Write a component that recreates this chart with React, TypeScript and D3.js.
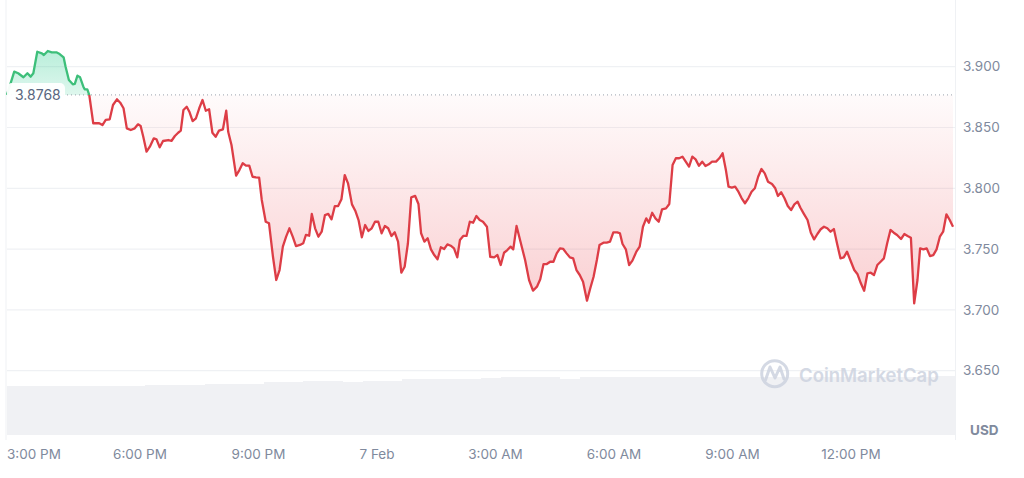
import React from 'react';
import * as d3 from 'd3';

// ---- DATA ----
const START = new Date(2024, 1, 6, 14, 38);
const SPAN_MINUTES = 1440;
const openPrice = 3.8768;
const priceTicks = [3.65, 3.7, 3.75, 3.8, 3.85, 3.9];

const minutes = [0,11,17,25,31,36,40,46,53,56,62,68,75,80,86,89,94,100,103,107,111,116,118,122,125,131,140,145,150,156,161,167,172,177,182,188,194,199,203,207,212,217,223,227,232,
237,245,250,255,260,264,268,273,277,282,287,292,297,302,307,312,317,322,328,333,336,341,348,353,358,363,368,373,378,383,387,393,398,404,409,414,419,424,429,434,439,445,450,454,459,463,468,473,
478,483,488,493,498,503,508,513,518,524,529,534,539,544,549,554,559,564,569,574,579,584,589,594,599,604,609,614,620,625,629,634,639,644,649,654,659,664,669,674,679,684,688,693,698,703,708,713,718,
723,729,734,740,745,750,755,760,765,769,774,780,787,793,799,805,810,815,820,825,830,835,840,845,850,855,860,865,870,875,881,886,891,896,900,906,911,916,921,927,931,935,940,945,950,956,961,
966,971,975,980,985,990,995,1001,1006,1011,1016,1021,1026,1031,1036,1041,1046,1051,1056,1061,1066,1071,1077,1082,1087,1092,1096,1101,1106,1111,1116,1121,1126,1131,1136,1141,1146,1151,1156,1162,1167,1171,1176,1181,1186,1191,1196,1201,1205,
1210,1216,1221,1226,1231,1236,1241,1246,1251,1256,1261,1266,1271,1276,1282,1287,1292,1297,1302,1307,1312,1317,1322,1327,1332,1337,1342,1347,1352,1358,1363,1368,1373,1378,1383,1387,1392,1397,1402,1407,1412,1417,1422,1427,1432,1437];

const prices = [3.8768,3.8959,3.8946,3.8913,3.8946,3.8918,3.8946,3.9123,3.9110,3.9096,3.9129,3.9118,3.9118,3.9104,3.9077,3.9000,3.8891,3.8855,3.8858,3.8926,3.8913,3.8836,3.8814,3.8814,3.8767,3.8535,3.8535,3.8520,3.8562,3.8567,3.8685,3.8732,3.8704,3.8658,3.8493,3.8479,3.8493,3.8526,3.8512,3.8424,3.8301,3.8342,3.8411,3.8403,3.8337,
3.8389,3.8397,3.8391,3.8430,3.8457,3.8474,3.8644,3.8671,3.8630,3.8553,3.8576,3.8658,3.8726,3.8638,3.8650,3.8457,3.8424,3.8474,3.8485,3.8638,3.8465,3.8356,3.8104,3.8150,3.8206,3.8186,3.8186,3.8095,3.8090,3.8087,3.7904,3.7725,3.7712,3.7437,3.7246,3.7328,3.7520,3.7602,3.7671,3.7602,3.7525,3.7534,3.7548,3.7616,3.7610,3.7789,3.7671,3.7602,
3.7643,3.7780,3.7789,3.7745,3.7854,3.7854,3.7910,3.8109,3.8041,3.7868,3.7816,3.7739,3.7597,3.7698,3.7649,3.7671,3.7725,3.7725,3.7630,3.7690,3.7671,3.7608,3.7638,3.7561,3.7306,3.7355,3.7548,3.7926,3.7937,3.7871,3.7630,3.7561,3.7589,3.7498,3.7451,3.7416,3.7515,3.7501,3.7539,3.7528,3.7506,3.7432,3.7575,3.7608,3.7608,3.7725,3.7717,3.7772,3.7739,
3.7725,3.7684,3.7437,3.7432,3.7451,3.7369,3.7470,3.7492,3.7520,3.7498,3.7690,3.7561,3.7410,3.7246,3.7158,3.7191,3.7252,3.7377,3.7377,3.7396,3.7396,3.7465,3.7506,3.7501,3.7465,3.7432,3.7424,3.7328,3.7287,3.7232,3.7076,3.7178,3.7273,3.7410,3.7534,3.7553,3.7553,3.7561,3.7638,3.7638,3.7630,3.7542,3.7498,3.7369,3.7405,3.7479,3.7520,
3.7684,3.7753,3.7717,3.7799,3.7753,3.7725,3.7827,3.7835,3.7871,3.8191,3.8247,3.8247,3.8260,3.8219,3.8178,3.8260,3.8238,3.8186,3.8219,3.8183,3.8197,3.8219,3.8219,3.8247,3.8288,3.8150,3.8013,3.8005,3.8013,3.7972,3.7918,3.7877,3.7918,3.7972,3.8000,3.8095,3.8159,3.8123,3.8054,3.8035,3.8000,3.7937,3.7967,3.7918,3.7854,3.7821,3.7868,3.7890,3.7842,
3.7794,3.7739,3.7635,3.7580,3.7624,3.7663,3.7684,3.7671,3.7643,3.7665,3.7542,3.7424,3.7432,3.7479,3.7396,3.7328,3.7293,3.7219,3.7158,3.7301,3.7306,3.7287,3.7369,3.7396,3.7424,3.7548,3.7657,3.7635,3.7616,3.7583,3.7624,3.7608,3.7594,3.7054,3.7246,3.7506,3.7498,3.7506,3.7443,3.7451,3.7498,3.7602,3.7643,3.7786,3.7739,3.7684];

// 24h volume (USD millions), one value per 30 minutes
const volumeStepMinutes = 30;
const volumes = [196,196,196,196,196,196,196,200,200,200,205,205,205,211,211,217,217,213,217,217,224,224,224,224,229,231,231,231,224,231,231,231,231,231,231,231,231,231,233,233,233,233,233,233,233,233,233,238];

const GREEN = '#3dbf7a';
const RED = '#dd3d46';
const AXIS_TEXT = '#808a9d';
const GRID = '#eff1f4';

export default function App() {
  const W = 1024, H = 478;
  const left = 7, right = 955;
  const x = d3.scaleTime()
    .domain([START, d3.timeMinute.offset(START, SPAN_MINUTES)])
    .range([left, right]);
  const y = d3.scaleLinear().domain([3.65, 3.9]).range([370.7, 66.7]);
  const yv = d3.scaleLinear().domain([0, 400]).range([435, 335]);

  const data = minutes.map((m, i) => ({ t: d3.timeMinute.offset(START, m), v: prices[i] }));
  const by = y(openPrice);
  const line = d3.line<any>().x(d => x(d.t)).y(d => y(d.v));
  const area = d3.area<any>().x(d => x(d.t)).y0(by).y1(d => y(d.v));
  const maxV = d3.max(prices) as number;
  const minV = d3.min(prices) as number;

  const ticks = x.ticks(d3.timeHour.every(3) as any);
  const fmt = (d: Date) => d.getHours() === 0 ? d3.timeFormat('%-d %b')(d) : d3.timeFormat('%-I:%M %p')(d);

  const font = 'Inter, "Noto Sans", sans-serif';

  return (
    <svg width={W} height={H} style={{ position: 'absolute', left: 0, top: 0, background: '#fff' }} fontFamily={font}>
      <defs>
        <clipPath id="above"><rect x={0} y={0} width={W} height={by} /></clipPath>
        <clipPath id="below"><rect x={0} y={by} width={W} height={H - by} /></clipPath>
        <linearGradient id="gUp" gradientUnits="userSpaceOnUse" x1={0} y1={y(maxV)} x2={0} y2={by}>
          <stop offset="0" stopColor="#16c784" stopOpacity={0.3} />
          <stop offset="1" stopColor="#16c784" stopOpacity={0.14} />
        </linearGradient>
        <linearGradient id="gDown" gradientUnits="userSpaceOnUse" x1={0} y1={by} x2={0} y2={y(minV)}>
          <stop offset="0" stopColor="#ea3943" stopOpacity={0.02} />
          <stop offset="1" stopColor="#ea3943" stopOpacity={0.24} />
        </linearGradient>
      </defs>

      {/* frame lines */}
      <line x1={6} x2={6} y1={0} y2={440} stroke={GRID} strokeWidth={1} />
      <line x1={955.5} x2={955.5} y1={0} y2={440} stroke={GRID} strokeWidth={1} />

      {/* grid */}
      {priceTicks.map(t => (
        <line key={t} x1={left} x2={right} y1={y(t)} y2={y(t)} stroke={GRID} strokeWidth={1.2} />
      ))}

      {/* volume */}
      {volumes.map((v, k) => {
        const x0 = x(d3.timeMinute.offset(START, k * volumeStepMinutes));
        const x1 = x(d3.timeMinute.offset(START, (k + 1) * volumeStepMinutes));
        return <rect key={k} x={x0} y={yv(v)} width={Math.max(0, x1 - x0 + 0.3)} height={yv(0) - yv(v)} fill="#f0f1f4" shapeRendering="crispEdges" />;
      })}

      {/* watermark */}
      <g opacity={0.85}>
        <circle cx={774.7} cy={373.7} r={13} fill="none" stroke="#cdd3e0" strokeWidth={3} />
        <path d="M 765.5 380 L 770 367 L 775 378 L 780 367 L 784 379" fill="none" stroke="#cdd3e0" strokeWidth={3} strokeLinejoin="round" strokeLinecap="round" />
        <text x={799} y={381.5} fontSize={18.5} fontWeight={600} fill="#cdd3e0">CoinMarketCap</text>
      </g>

      {/* areas */}
      <path d={area(data) as string} fill="url(#gUp)" clipPath="url(#above)" />
      <path d={area(data) as string} fill="url(#gDown)" clipPath="url(#below)" />

      {/* baseline */}
      <line x1={left} x2={right} y1={by} y2={by} stroke="#9aa1ad" strokeWidth={1} strokeDasharray="1 3" />

      {/* price line */}
      <path d={line(data) as string} fill="none" stroke={GREEN} strokeWidth={2.3} strokeLinejoin="round" clipPath="url(#above)" />
      <path d={line(data) as string} fill="none" stroke={RED} strokeWidth={2.3} strokeLinejoin="round" clipPath="url(#below)" />

      {/* open price label */}
      <rect x={7} y={by - 12} width={58} height={24} rx={5} fill="#fff" fillOpacity={0.95} />
      <text x={15} y={by} dy="0.35em" fontSize={14} fill="#58667e">{openPrice.toFixed(4)}</text>

      {/* y labels */}
      {priceTicks.map(t => (
        <text key={t} x={963} y={y(t)} dy="0.35em" fontSize={13.5} fill={AXIS_TEXT}>{t.toFixed(3)}</text>
      ))}
      <text x={970} y={430} dy="0.35em" fontSize={13.5} fontWeight={700} fill={AXIS_TEXT}>USD</text>

      {/* x labels */}
      {ticks.map((t, i) => {
        const px = x(t);
        const clamp = px - 27 < left;
        return (
          <text key={i} x={clamp ? left : px} y={454} dy="0.35em" fontSize={13.5} fill={AXIS_TEXT}
            textAnchor={clamp ? 'start' : 'middle'}>{fmt(t)}</text>
        );
      })}
    </svg>
  );
}
